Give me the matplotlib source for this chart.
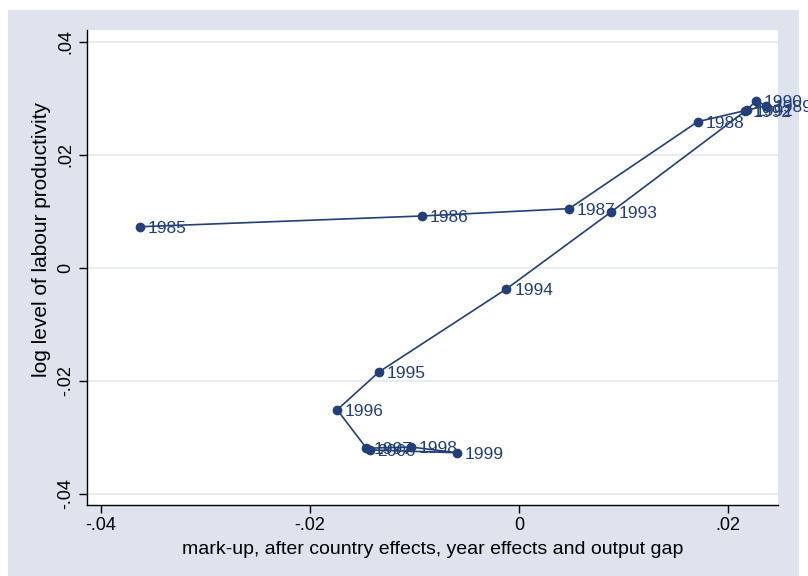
import matplotlib
matplotlib.use("Agg")
import matplotlib.pyplot as plt
from matplotlib.patches import Rectangle

plt.rcParams['font.family'] = ['Liberation Sans', 'DejaVu Sans']

# data, in year order
years = [1985, 1986, 1987, 1988, 1989, 1990, 1991, 1992, 1993, 1994,
         1995, 1996, 1997, 1998, 1999, 2000]
markup = [-0.0363, -0.0093, 0.0048, 0.0171, 0.0236, 0.0227, 0.0218, 0.0216,
          0.0088, -0.0012, -0.0134, -0.0174, -0.0146, -0.0103, -0.0059, -0.0143]
prod = [0.0073, 0.0092, 0.0105, 0.0259, 0.0287, 0.0296, 0.0280, 0.0277,
        0.0099, -0.0037, -0.0184, -0.0251, -0.0319, -0.0317, -0.0327, -0.0322]

xticks = [-0.04, -0.02, 0, 0.02]
xticklabels = ['-.04', '-.02', '0', '.02']
yticks = [-0.04, -0.02, 0, 0.02, 0.04]
yticklabels = ['-.04', '-.02', '0', '.02', '.04']

navy = '#223f78'
bg = '#dfe3ee'

fig = plt.figure(figsize=(8.08, 5.76), dpi=100)
fig.patch.set_facecolor('white')
# stata style outer background
fig.patches.append(Rectangle((8/808, 0), 791/808, 1-10/576, transform=fig.transFigure,
                             facecolor=bg, edgecolor='none', zorder=-1))

ax = fig.add_axes([87/808, 1-505/576, 691/808, 475/576])
ax.set_facecolor('white')

ax.plot(markup, prod, color=navy, lw=1.2, marker='o', ms=6, mec=navy, mfc=navy, zorder=3)
for x, y, yr in zip(markup, prod, years):
    ax.annotate(str(yr), (x, y), xytext=(5.5, -1), textcoords='offset points',
                ha='left', va='center', fontsize=12.5, color=navy, zorder=4,
                annotation_clip=False)

ax.set_xlim(-0.04134, 0.02478)
ax.set_ylim(-0.04195, 0.04212)
ax.set_xticks(xticks)
ax.set_xticklabels(xticklabels)
ax.set_yticks(yticks)
ax.set_yticklabels(yticklabels, rotation=90, va='center')
ax.tick_params(axis='both', direction='out', length=6, width=1, labelsize=13, pad=3)
ax.grid(axis='y', color='#e3e8f0', lw=1.2, zorder=0)
ax.set_axisbelow(True)

for s in ['top', 'right']:
    ax.spines[s].set_visible(False)
for s in ['left', 'bottom']:
    ax.spines[s].set_linewidth(1)

ax.set_xlabel('mark-up, after country effects, year effects and output gap', fontsize=14, labelpad=5)
ax.set_ylabel('log level of labour productivity', fontsize=15)
ax.yaxis.set_label_coords(-0.052, 0.558)

fig.savefig('out.png', dpi=100, facecolor=fig.get_facecolor())
